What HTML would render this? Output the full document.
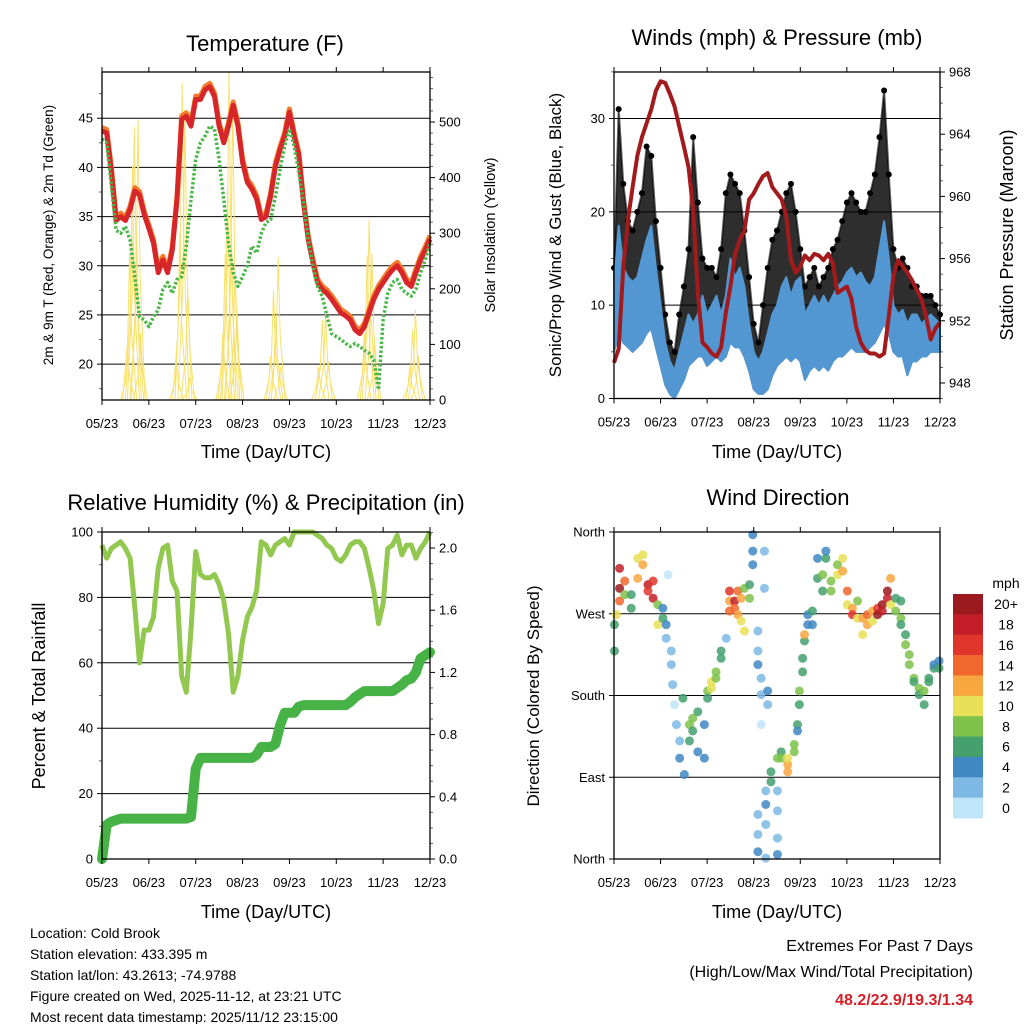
<!DOCTYPE html>
<html><head><meta charset="utf-8"><style>
html,body{margin:0;padding:0;background:#fff;}
svg{display:block;font-family:"Liberation Sans",Arial,sans-serif;}
</style></head><body>
<svg id="chart" width="1024" height="1024" viewBox="0 0 1024 1024">
<rect x="0" y="0" width="1024" height="1024" fill="#fff"/>
<g id="g-temp"></g>
<g id="g-wind"></g>
<g id="g-rh"></g>
<g id="g-dir"></g>
<g id="g-cbar"></g>
<text x="265" y="51" font-size="22" text-anchor="middle">Temperature (F)</text>
<text x="777" y="45" font-size="22" text-anchor="middle">Winds (mph) &amp; Pressure (mb)</text>
<text x="266" y="510" font-size="22" text-anchor="middle">Relative Humidity (%) &amp; Precipitation (in)</text>
<text x="778" y="505" font-size="22" text-anchor="middle">Wind Direction</text>
<text x="266" y="458" font-size="18" text-anchor="middle">Time (Day/UTC)</text>
<text x="777" y="458" font-size="18" text-anchor="middle">Time (Day/UTC)</text>
<text x="266" y="918" font-size="18" text-anchor="middle">Time (Day/UTC)</text>
<text x="777" y="918" font-size="18" text-anchor="middle">Time (Day/UTC)</text>
<text transform="translate(53,235) rotate(-90)" font-size="13.5" text-anchor="middle">2m &amp; 9m T (Red, Orange) &amp; 2m Td (Green)</text>
<text transform="translate(495,235) rotate(-90)" font-size="14.5" text-anchor="middle">Solar Insolation (Yellow)</text>
<text transform="translate(561,235) rotate(-90)" font-size="17" text-anchor="middle">Sonic/Prop Wind &amp; Gust (Blue, Black)</text>
<text transform="translate(1013,235) rotate(-90)" font-size="18" text-anchor="middle">Station Pressure (Maroon)</text>
<text transform="translate(45,696) rotate(-90)" font-size="18" text-anchor="middle">Percent &amp; Total Rainfall</text>
<text transform="translate(539,696) rotate(-90)" font-size="17" text-anchor="middle">Direction (Colored By Speed)</text>
<g font-size="14">
<text x="30" y="938">Location: Cold Brook</text>
<text x="30" y="959">Station elevation: 433.395 m</text>
<text x="30" y="980">Station lat/lon: 43.2613; -74.9788</text>
<text x="30" y="1001">Figure created on Wed, 2025-11-12, at 23:21 UTC</text>
<text x="30" y="1022">Most recent data timestamp: 2025/11/12 23:15:00</text>
</g>
<text x="973" y="951" font-size="16" text-anchor="end">Extremes For Past 7 Days</text>
<text x="973" y="977" font-size="16" text-anchor="end">(High/Low/Max Wind/Total Precipitation)</text>
<text x="973" y="1005" font-size="16" font-weight="bold" fill="#d42026" text-anchor="end">48.2/22.9/19.3/1.34</text>
</svg>
<script>
// ---------- data (time index: months since 05/23, step 0.1) ----------
const monthLabels = ["05/23","06/23","07/23","08/23","09/23","10/23","11/23","12/23"];
const temp = [43.7,43.5,39.6,34.6,35,34.6,35.7,37.6,37.2,35.2,33.8,32.3,29.3,30.6,29.3,31.6,36.7,44.9,45.2,44.2,46.9,46.9,47.9,48.2,47.2,44.2,42.5,44.2,46.3,44.2,40.5,38.5,37.8,36.8,34.7,35,37.1,40.1,41.8,43.2,45.6,43.2,41.2,36.4,32.7,30.3,28.3,27.6,27.2,26.6,25.9,25.2,24.9,24.5,23.5,23.1,23.8,25.2,26.6,27.6,28.3,29,29.6,30,29.3,28.3,27.9,29.3,30.6,31.6,32.7];
const dew = [42.9,42.5,38.1,33.6,33.3,34,32.6,28.9,24.8,24.5,23.8,24.8,25.5,27.6,28.3,27.2,28.6,28.9,32,36.7,40.8,42.5,43.2,44.2,43.9,40.8,36.7,32.3,29.3,27.9,28.9,30,32,31.3,33.3,34.4,34.7,37.1,39.8,42.2,43.9,42.2,39.5,36.4,32.7,30,27.9,26.9,24.9,23.1,22.8,22.5,22.1,21.8,22.1,21.8,21.4,21.1,20.4,17.4,24.5,27.2,28.3,28.6,27.6,27.2,26.9,27.6,29.3,30.6,32.3];
const solarT = [0.55,0.59,0.65,0.69,0.74,0.77,0.82,1.59,1.66,1.71,1.77,1.83,1.87,2.58,2.63,2.68,2.71,2.76,2.79,2.84,2.88,3.6,3.66,3.71,3.76,3.81,4.62,4.7,4.77,4.83,5.6,5.66,5.7,5.76,5.81,6.57,6.63,6.69,6.75];
const solarV = [90,264,420,491,300,504,120,72,300,570,522,200,41,120,264,380,590,300,540,230,162,80,198,150,257,60,60,144,156,70,120,260,324,264,100,60,126,162,80];
const pressure = [949.3,950.2,955.5,958.5,960.6,962.6,963.8,964.7,965.6,966.8,967.4,967.3,966.6,965.8,964.5,963.2,961.9,959.1,953.8,950.6,950.3,949.9,949.7,950.3,952.5,954.2,956.3,957.2,957.8,959.8,960.2,960.8,961.3,961.5,960.6,960.2,959.8,958.7,955.9,955.1,955.5,956.2,955.9,956.3,956.2,955.9,956.3,955.7,953.8,954,954.2,953.4,951.6,950.6,950.1,949.9,949.9,949.7,949.9,952.3,954.9,955.9,955.5,955.1,954.6,954,953.4,952.3,950.8,951.5,951.9];
const windHi = [12,18.5,14,13,12.5,13,15,17,18.5,14,10,6,4,3,5,7,9,8,9,11,9,10,11,9,11,15,13,14,12,8,5,4,5,7,9,10,12,13,11,12.5,13,9,10,11,10,11,10,11,12,12.5,13.5,14,13,13.5,12.5,12,13,16,19,15,10,9,9.5,8,9,9,8,8.5,9,8.5,8];
const windLo = [5,7,6,5.5,5,5.5,6,7,7.5,5.5,3.5,1.5,0.5,0,1,2,3.5,4,4.5,4.5,3.5,4,4.5,4,4.5,6,5.5,5.5,4.5,3,1,0.5,0.5,1,2.5,3.5,4,4.5,4,4.5,4,2,3,3.5,3,3.5,3,4,4.5,4.5,5,5.5,5,5,5,5.5,6,7,8,7,5,4.5,4.5,2.5,4,4,4.5,4.5,5,5,5];
const gustHi = [14,31,23,19,18,20,22,27,26,19,14,9,6,5,9,12,16,28,21,15,14,14,13,16,22,24,23,22,18,13,8,6,10,14,17,18,20,22,23,20,16,12,13,14,12,13,14,16,17,19,21,22,21,20,20,22,24,28,33,24,16,14,15,14,12,12,11,11,11,10,9];
const rh = [96,92,95,96,97,95,92,77,60,70,70,74,89,95,96,85,82,56,51,70,94,87,86,86,87,84,79,69,51,56,67,74,77,82,97,96,93,96,97,98,96,100,100,100,100,100,99,98,96,95,92,91,93,96,97,97,95,89,82,72,78,95,96,99,93,96,96,92,95,97,100];
const rain = [0,0.22,0.24,0.25,0.26,0.26,0.26,0.26,0.26,0.26,0.26,0.26,0.26,0.26,0.26,0.26,0.26,0.26,0.26,0.27,0.58,0.65,0.65,0.65,0.65,0.65,0.65,0.65,0.65,0.65,0.65,0.65,0.65,0.67,0.72,0.72,0.72,0.74,0.86,0.94,0.94,0.94,0.98,0.99,0.99,0.99,0.99,0.99,0.99,0.99,0.99,0.99,0.99,1.01,1.04,1.06,1.08,1.08,1.08,1.08,1.08,1.08,1.08,1.1,1.12,1.15,1.16,1.2,1.29,1.31,1.33];
const dirT = [0.01,0.01,0.05,0.12,0.12,0.12,0.23,0.23,0.37,0.37,0.51,0.51,0.62,0.62,0.73,0.73,0.84,0.84,0.94,0.94,1.05,1.05,1.12,1.12,1.16,1.23,1.23,1.26,1.3,1.34,1.41,1.41,1.51,1.48,1.62,1.62,1.69,1.69,1.8,1.8,1.94,1.94,2.01,2.01,2.09,2.09,2.19,2.19,2.3,2.3,2.41,2.48,2.48,2.48,2.59,2.59,2.66,2.66,2.73,2.73,2.8,2.8,2.91,2.91,2.98,2.98,2.98,3.09,3.09,3.09,3.16,3.16,3.16,3.23,3.23,3.09,3.09,3.09,3.3,3.3,3.26,3.26,3.26,3.26,3.37,3.37,3.51,3.51,3.51,3.51,3.51,3.59,3.59,3.73,3.73,3.73,3.87,3.87,3.94,3.94,3.98,3.98,4.05,4.05,4.09,4.09,4.16,4.16,4.26,4.26,4.37,4.37,4.48,4.48,4.55,4.55,4.66,4.66,4.8,4.8,4.91,4.91,5.01,5.01,5.12,5.12,5.23,5.23,5.34,5.34,5.44,5.44,5.55,5.55,5.66,5.66,5.76,5.76,5.87,5.87,5.94,5.94,6.05,6.05,6.16,6.16,6.16,6.26,6.26,6.34,6.34,6.44,6.44,6.55,6.55,6.66,6.66,6.76,6.76,6.87,6.87,6.98,6.98];
const dirV = [258,229,269,320,298,284,306,291,291,276,309,331,324,335,302,295,287,306,280,258,276,265,258,243,313,229,214,192,170,148,130,111,93,177,148,130,155,141,162,118,111,148,185,177,195,188,206,199,221,229,243,284,295,273,284,276,295,269,287,262,251,298,287,302,324,339,357,251,229,214,199,181,148,339,298,49,27,8,185,170,75,60,38,1,85,96,111,75,53,23,5,118,111,104,96,111,118,126,148,141,170,185,206,221,240,247,258,269,273,258,309,331,313,295,331,339,306,295,313,324,331,317,295,280,276,269,265,284,265,247,269,258,273,262,276,269,280,273,295,287,309,280,273,287,265,258,284,247,236,225,214,199,195,188,181,185,170,195,199,210,214,218,210];
const dirS = [6,6,10,18,20,14,14,8,6,6,12,10,12,10,18,16,18,16,8,10,4,6,4,2,1,2,2,2,1,2,2,4,4,6,8,6,8,7,6,4,4,4,8,7,11,10,8,8,6,6,2,12,16,14,18,15,14,12,12,10,10,8,8,6,4,4,4,2,3,4,2,2,1,2,2,3,3,4,4,3,2,4,2,3,6,6,8,3,2,2,4,6,8,12,13,10,8,8,6,4,6,9,6,6,7,12,5,5,6,4,6,4,8,6,6,4,8,8,10,8,10,12,14,10,12,16,10,8,12,10,14,12,12,10,16,20,20,18,20,18,12,10,8,6,8,6,6,6,8,8,8,8,6,8,6,8,6,6,6,6,5,4,6];
const cbarLabels = ["20+","18","16","14","12","10","8","6","4","2","0"];
const cbarColors = ["#9b1a1f","#c31e28","#e0352a","#f1672c","#f8a640","#e8e056","#7fc24a","#44a06d","#3f88c4","#7db9e4","#bfe5f8"];

const NS = "http://www.w3.org/2000/svg";
function mk(parent, tag, attrs){
  const e = document.createElementNS(NS, tag);
  for (const k in attrs) e.setAttribute(k, attrs[k]);
  parent.appendChild(e);
  return e;
}
function linMap(d0,d1,r0,r1){ return v => r0 + (v-d0)*(r1-r0)/(d1-d0); }
function pathFrom(xs, ys){ return xs.map((x,i)=>(i?"L":"M")+x.toFixed(1)+","+ys[i].toFixed(1)).join(""); }
const tIdx = temp.map((_,i)=>i/10);

function frame(g, x0,y0,x1,y1, name){
  const r = mk(g,"rect",{x:x0,y:y0,width:x1-x0,height:y1-y0,fill:"none",stroke:"#000","stroke-width":1.3});
  
  
}
function xAxis(g, xs, y0, y1, prefix){
  for (let m=0;m<8;m++){
    const x = xs(m);
    mk(g,"line",{x1:x,y1:y1,x2:x,y2:y1+5,stroke:"#000"});
    mk(g,"line",{x1:x,y1:y0,x2:x,y2:y0-5,stroke:"#000"});
    const t = mk(g,"text",{x:x,y:y1+28,"font-size":13,"text-anchor":"middle"});
    t.textContent = monthLabels[m];
    
    
  }
}
function yTicks(g, vals, ys, x, side, fmt, prefix, grid, xEnd){
  vals.forEach(v=>{
    const y = ys(v);
    mk(g,"line",{x1:x,y1:y,x2:x+(side<0?-5:5),y2:y,stroke:"#000"});
    if (grid) mk(g,"line",{x1:x,y1:y,x2:xEnd,y2:y,stroke:"#000","stroke-width":1});
    const t = mk(g,"text",{x:x+(side<0?-9:9),y:y+4.5,"font-size":13,"text-anchor":side<0?"end":"start"});
    t.textContent = fmt(v);
    
    
  });
}
function minor(g, vals, ys, x, side){
  vals.forEach(v=>{ const y=ys(v); mk(g,"line",{x1:x,y1:y,x2:x+(side<0?-3:3),y2:y,stroke:"#666"}); });
}

// ---------- Temperature panel ----------
(function(){
  const g = document.getElementById("g-temp");
  const X0=102,X1=430,Y0=72,Y1=400;
  const xs = linMap(0,7,X0,X1), ys = linMap(16.35,49.7,Y1,Y0), ysol = linMap(0,500,Y1,122);
  yTicks(g,[20,25,30,35,40,45],ys,X0,-1,v=>v,"temp-y",true,X1);
  minor(g,[17.5,22.5,27.5,32.5,37.5,42.5,47.5],ys,X0,-1);
  yTicks(g,[0,100,200,300,400,500],ysol,X1,1,v=>v,"solar-y",false);
  minor(g,[20,40,60,80,120,140,160,180,220,240,260,280,320,340,360,380,420,440,460,480,520,540,560,580],ysol,X1,1);
  const sg = mk(g,"g",{});
  
  
  solarT.forEach((t,i)=>{
    const x = xs(t);
    const p = mk(sg,"path",{d:`M${x-7},${Y1} L${x-2},${ysol(solarV[i]*0.4)} L${x},${ysol(solarV[i])} L${x+2},${ysol(solarV[i]*0.45)} L${x+7},${Y1}`,fill:"none",stroke:"#f9e06a","stroke-width":1});
    
    
  });
  const xsArr = tIdx.map(xs);
  const o = mk(g,"path",{d:pathFrom(xsArr,temp.map(v=>ys(v+0.35))),fill:"none",stroke:"#f47b2a","stroke-width":5,"stroke-linejoin":"round"});
  
  
  const r = mk(g,"path",{d:pathFrom(xsArr,temp.map(ys)),fill:"none",stroke:"#d7262a","stroke-width":5,"stroke-linejoin":"round"});
  
  
  const d = mk(g,"path",{d:pathFrom(xsArr,dew.map(ys)),fill:"none",stroke:"#4cb748","stroke-width":3.5,"stroke-dasharray":"2.5 2","stroke-linejoin":"round"});
  
  
  frame(g,X0,Y0,X1,Y1,"temp-plot-frame");
  xAxis(g,xs,Y0,Y1,"temp");
})();

// ---------- Winds panel ----------
(function(){
  const g = document.getElementById("g-wind");
  const X0=614,X1=940,Y0=72,Y1=398.5;
  const xs = linMap(0,7,X0,X1), ys = linMap(0,30,Y1,118.5), yp = linMap(948,968,383,72);
  yTicks(g,[0,10,20,30],ys,X0,-1,v=>v,"wind-y",true,X1);
  minor(g,[5,15,25,35],ys,X0,-1);
  yTicks(g,[948,952,956,960,964,968],yp,X1,1,v=>v,"pressure-y",false);
  minor(g,[947,949,950,951,953,954,955,957,958,959,961,962,963,965,966,967],yp,X1,1);
  const xsArr = tIdx.map(xs);
  const top = gustHi.map(ys), bot = windLo.map(ys);
  let dpath = pathFrom(xsArr,top) + xsArr.slice().reverse().map((x,i)=>"L"+x.toFixed(1)+","+bot[bot.length-1-i].toFixed(1)).join("")+"Z";
  const ga = mk(g,"path",{d:dpath,fill:"#000","fill-opacity":0.82,stroke:"#000","stroke-width":2,"stroke-opacity":0.6,"stroke-linejoin":"round"});
  
  
  gustHi.forEach((v,i)=>{
    const c = mk(g,"circle",{cx:xsArr[i],cy:ys(v),r:3,fill:"#000"});
    
    
  });
  const wt = windHi.map(ys);
  let bpath = pathFrom(xsArr,wt) + xsArr.slice().reverse().map((x,i)=>"L"+x.toFixed(1)+","+bot[bot.length-1-i].toFixed(1)).join("")+"Z";
  const wa = mk(g,"path",{d:bpath,fill:"#5397d2",stroke:"#5397d2","stroke-width":2,"stroke-linejoin":"round"});
  
  
  const pl = mk(g,"path",{d:pathFrom(xsArr,pressure.map(yp)),fill:"none",stroke:"#a31a1d","stroke-width":4,"stroke-linejoin":"round"});
  
  
  frame(g,X0,Y0,X1,Y1,"wind-plot-frame");
  xAxis(g,xs,Y0,Y1,"wind");
})();

// ---------- Humidity panel ----------
(function(){
  const g = document.getElementById("g-rh");
  const X0=102,X1=430,Y0=532,Y1=859;
  const xs = linMap(0,7,X0,X1), ys = linMap(0,100,Y1,Y0), yr = linMap(0,2,Y1,548);
  yTicks(g,[0,20,40,60,80,100],ys,X0,-1,v=>v,"rh-y",true,X1);
  minor(g,[10,30,50,70,90],ys,X0,-1);
  yTicks(g,[0,0.4,0.8,1.2,1.6,2.0],yr,X1,1,v=>v.toFixed(1),"rain-y",false);
  minor(g,[0.1,0.2,0.3,0.5,0.6,0.7,0.9,1.0,1.1,1.3,1.4,1.5,1.7,1.8,1.9,2.1],yr,X1,1);
  const xsArr = tIdx.map(xs);
  const rl = mk(g,"path",{d:pathFrom(xsArr,rh.map(ys)),fill:"none",stroke:"#92c84f","stroke-width":5,"stroke-linejoin":"round"});
  
  
  const pl = mk(g,"path",{d:pathFrom(xsArr,rain.map(yr)),fill:"none",stroke:"#47b347","stroke-width":10,"stroke-linejoin":"round","stroke-linecap":"round"});
  
  
  frame(g,X0,Y0,X1,Y1,"rh-plot-frame");
  xAxis(g,xs,Y0,Y1,"rh");
})();

// ---------- Wind direction panel ----------
(function(){
  const g = document.getElementById("g-dir");
  const X0=614,X1=940,Y0=532,Y1=859;
  const xs = linMap(0,7,X0,X1), ys = linMap(0,360,Y1,Y0);
  const names = ["North","East","South","West","North"];
  yTicks(g,[0,90,180,270,360],ys,X0,-1,v=>names[v/90],"dir-y",true,X1);
  dirT.forEach((t,i)=>{
    const s = dirS[i];
    const bin = Math.min(10, Math.floor(s/2));
    const c = mk(g,"circle",{cx:xs(t),cy:ys(dirV[i]),r:4.5,fill:cbarColors[10-bin],"fill-opacity":0.85});
    
    
  });
  frame(g,X0,Y0,X1,Y1,"dir-plot-frame");
  xAxis(g,xs,Y0,Y1,"dir");
})();

// ---------- Colorbar ----------
(function(){
  const g = document.getElementById("g-cbar");
  const h = 224/11;
  const m = mk(g,"text",{x:1006,y:588,"font-size":14,"text-anchor":"middle"});
  m.textContent = "mph";
  
  
  cbarLabels.forEach((lab,i)=>{
    const r = mk(g,"rect",{x:953,y:594+i*h,width:30,height:h+0.5,fill:cbarColors[i]});
    
    
    const t = mk(g,"text",{x:1006,y:594+i*h+h/2+5,"font-size":14,"text-anchor":"middle"});
    t.textContent = lab;
    
    
  });
})();
</script>
</body></html>
